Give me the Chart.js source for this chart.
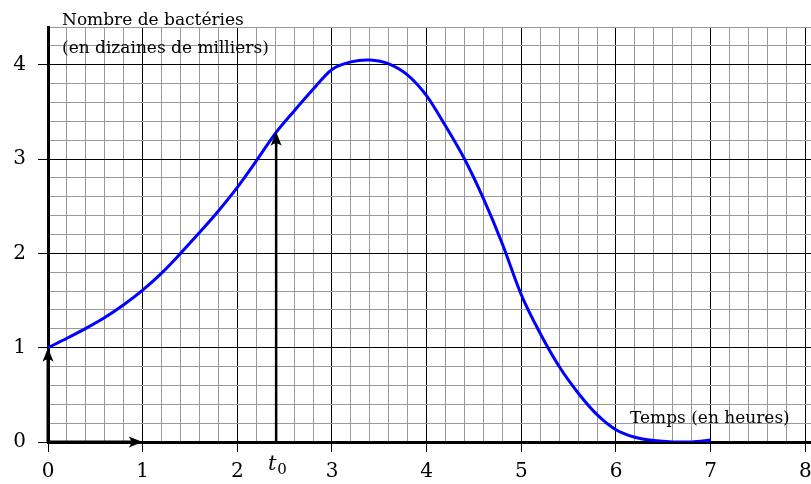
<!DOCTYPE html>
<html>
<head>
<meta charset="utf-8">
<script src="https://cdn.jsdelivr.net/npm/chart.js@4.4.0/dist/chart.umd.min.js"></script>
<style>
  html, body { margin: 0; padding: 0; background: #fff; }
  #wrap { width: 811px; height: 484px; position: relative; }
</style>
</head>
<body>
<div id="wrap"><canvas id="bacteriaChart"></canvas></div>
<script>
// time in hours and bacteria count (tens of thousands)
const hours = [0, 0.2, 0.4, 0.6, 0.8, 1, 1.2, 1.4, 1.6, 1.8, 2, 2.2, 2.4, 2.6, 2.8, 3,
               3.2, 3.4, 3.6, 3.8, 4, 4.2, 4.4, 4.6, 4.8, 5, 5.2, 5.4, 5.6, 5.8, 6,
               6.2, 6.4, 6.6, 6.8, 7];
const bacteria = [1.00, 1.10, 1.205, 1.32, 1.455, 1.61, 1.79, 2.00, 2.22, 2.45, 2.70, 2.98, 3.27, 3.51, 3.74, 3.95,
                  4.03, 4.05, 4.01, 3.89, 3.67, 3.35, 3.00, 2.58, 2.10, 1.56, 1.15, 0.80, 0.52, 0.29, 0.13,
                  0.05, 0.015, 0.00, 0.00, 0.02];
const xTickLabels = ['0', '1', '2', '3', '4', '5', '6', '7', '8'];
const yTickLabels = ['0', '1', '2', '3', '4'];
const t0 = 2.41;
const t0Value = 3.29;

const serif = '"DejaVu Serif", serif';

function isMajor(v) {
    return Math.abs(v - Math.round(v)) < 1e-6;
}

// arrows, t0 marker and the free text labels
const annotations = {
    id: 'annotations',
    afterDatasetsDraw(chart) {
        const ctx = chart.ctx;
        const xs = chart.scales.x;
        const ys = chart.scales.y;

        function arrow(x1, y1, x2, y2, width) {
            const px1 = xs.getPixelForValue(x1), py1 = ys.getPixelForValue(y1);
            const px2 = xs.getPixelForValue(x2), py2 = ys.getPixelForValue(y2);
            const a = Math.atan2(py2 - py1, px2 - px1);
            const len = 14;
            ctx.save();
            ctx.strokeStyle = '#000';
            ctx.fillStyle = '#000';
            ctx.lineWidth = width;
            ctx.beginPath();
            ctx.moveTo(px1, py1);
            ctx.lineTo(px2 - Math.cos(a) * 6, py2 - Math.sin(a) * 6);
            ctx.stroke();
            ctx.translate(px2, py2);
            ctx.rotate(a);
            ctx.beginPath();
            ctx.moveTo(0, 0);
            ctx.lineTo(-len, -5.5);
            ctx.quadraticCurveTo(-len + 5, 0, -len, 5.5);
            ctx.closePath();
            ctx.fill();
            ctx.restore();
        }

        arrow(0, 0, 1, 0, 3);
        arrow(0, 0, 0, 1, 3);
        arrow(t0, 0, t0, t0Value, 2.5);

        ctx.save();
        ctx.fillStyle = '#000';
        ctx.textBaseline = 'alphabetic';
        ctx.textAlign = 'left';
        ctx.font = '17px ' + serif;
        ctx.fillText('Nombre de bactéries', 62, 25);
        ctx.fillText('(en dizaines de milliers)', 62, 53);
        ctx.fillText('Temps (en heures)', 630, 423);
        ctx.font = 'italic 21px ' + serif;
        const tx = xs.getPixelForValue(t0);
        ctx.textAlign = 'center';
        ctx.fillText('t', tx - 4, 470);
        ctx.font = '15px ' + serif;
        ctx.fillText('0', tx + 6, 474);
        ctx.restore();
    }
};

new Chart(document.getElementById('bacteriaChart').getContext('2d'), {
    type: 'scatter',
    data: {
        datasets: [{
            data: hours.map((h, i) => ({x: h, y: bacteria[i]})),
            showLine: true,
            borderColor: '#0000ff',
            borderWidth: 3,
            pointRadius: 0,
            tension: 0.3
        }]
    },
    options: {
        responsive: true,
        maintainAspectRatio: false,
        animation: false,
        layout: { padding: { top: 27, right: 0, left: 0, bottom: 0 } },
        plugins: {
            legend: { display: false },
            tooltip: { enabled: false }
        },
        scales: {
            x: {
                type: 'linear',
                min: 0,
                max: 8.06,
                afterFit(scale) {
                    scale.height = 42;
                    scale.paddingRight = 0;
                    scale.paddingLeft = 0;
                },
                border: { display: true, color: '#000', width: 3 },
                grid: {
                    color: c => isMajor(c.tick.value) ? '#000' : '#999',
                    lineWidth: 1,
                    tickLength: 10,
                    tickColor: c => isMajor(c.tick.value) ? '#000' : 'rgba(0,0,0,0)'
                },
                ticks: {
                    stepSize: 0.2,
                    autoSkip: false,
                    maxRotation: 0,
                    includeBounds: false,
                    padding: 8,
                    color: '#000',
                    font: { family: serif, size: 20 },
                    callback: v => isMajor(v) ? (xTickLabels[Math.round(v)] || '') : ''
                }
            },
            y: {
                type: 'linear',
                min: 0,
                max: 4.4,
                afterFit(scale) {
                    scale.width = 48;
                    scale.paddingTop = 0;
                    scale.paddingBottom = 0;
                },
                border: { display: true, color: '#000', width: 3 },
                grid: {
                    color: c => isMajor(c.tick.value) ? '#000' : '#999',
                    lineWidth: 1,
                    tickLength: 10,
                    tickColor: c => isMajor(c.tick.value) ? '#000' : 'rgba(0,0,0,0)'
                },
                ticks: {
                    stepSize: 0.2,
                    autoSkip: false,
                    includeBounds: false,
                    padding: 12,
                    color: '#000',
                    font: { family: serif, size: 20 },
                    callback: v => isMajor(v) ? (yTickLabels[Math.round(v)] || '') : ''
                }
            }
        }
    },
    plugins: [annotations]
});
</script>
</body>
</html>
